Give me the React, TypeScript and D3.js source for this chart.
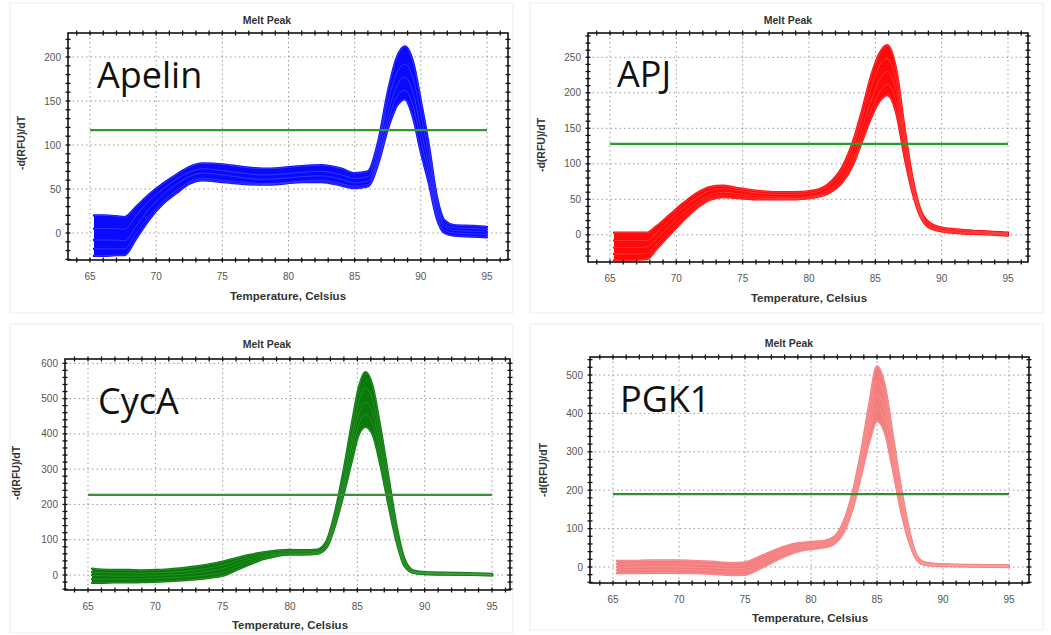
import React from 'react';
import * as d3 from 'd3';

// ---------------- DATA ----------------
const X_TICKS = [65, 70, 75, 80, 85, 90, 95];

const APELIN_Y_TICKS = [0, 50, 100, 150, 200];
const APJ_Y_TICKS = [0, 50, 100, 150, 200, 250];
const CYCA_Y_TICKS = [0, 100, 200, 300, 400, 500, 600];
const PGK1_Y_TICKS = [0, 100, 200, 300, 400, 500];

const APELIN_THRESHOLD = 117;
const APJ_THRESHOLD = 128;
const CYCA_THRESHOLD = 227;
const PGK1_THRESHOLD = 190;

const APELIN_TEMPS = [65.3, 66, 67, 67.6, 68.5, 69.5, 70.5, 71.5, 72.5, 73.5, 75, 76.5, 78, 79.5, 81, 82.5, 84, 85, 86, 86.8, 87.5, 88.2, 88.8, 89.4, 90, 90.6, 91.2, 91.8, 92.5, 94, 95];
const APELIN_CURVES = [
  [20, 20, 19, 18, 30, 44, 56, 66, 75, 79, 78, 75, 73, 74, 76, 77, 73, 68, 70, 105, 160, 200, 212, 195, 150, 100, 42, 14, 9, 8, 7],
  [5, 5, 5, 4, 20, 37, 50, 61, 69, 73, 71, 68, 66, 67, 69, 70, 66, 62, 64, 98, 148, 182, 192, 176, 135, 88, 35, 10, 6, 5, 4],
  [-8, -8, -8, -9, 8, 28, 43, 55, 64, 68, 66, 63, 61, 62, 64, 65, 61, 57, 59, 90, 135, 168, 177, 160, 118, 76, 28, 7, 3, 2, 1],
  [-18, -18, -18, -18, 0, 20, 36, 48, 58, 62, 60, 58, 56, 57, 59, 60, 56, 53, 55, 84, 125, 155, 162, 145, 105, 66, 22, 3, 0, -1, -2],
  [-26, -26, -25, -25, -6, 16, 33, 45, 56, 60, 58, 56, 55, 56, 58, 58, 54, 51, 53, 80, 118, 145, 152, 132, 92, 57, 17, 0, -3, -4, -5],
];

const APJ_TEMPS = [65.3, 66, 67, 67.8, 68.5, 69.5, 70.5, 71.5, 72.5, 73.5, 74.5, 76, 77.5, 79, 80.5, 81.5, 82.5, 83.3, 84, 84.7, 85.3, 85.9, 86.6, 87.2, 87.8, 88.4, 89, 90, 91.5, 93, 95];
const APJ_CURVES = [
  [3, 3, 3, 3, 12, 28, 44, 58, 67, 69, 66, 62, 60, 60, 63, 72, 95, 130, 175, 225, 255, 267, 230, 150, 80, 35, 18, 10, 7, 5, 3],
  [-8, -8, -8, -8, 3, 21, 38, 52, 62, 65, 63, 59, 57, 57, 60, 69, 90, 122, 165, 208, 238, 248, 215, 140, 75, 32, 16, 9, 6, 4, 2],
  [-18, -18, -18, -17, -6, 13, 30, 45, 56, 60, 58, 55, 53, 53, 56, 64, 83, 112, 150, 190, 218, 230, 200, 130, 70, 30, 14, 7, 4, 3, 1],
  [-27, -27, -27, -26, -14, 6, 24, 40, 52, 56, 55, 52, 51, 51, 54, 61, 78, 104, 140, 176, 200, 212, 185, 120, 65, 28, 12, 6, 3, 2, 0],
  [-36, -36, -35, -34, -20, 0, 20, 37, 49, 53, 52, 50, 50, 50, 53, 59, 74, 98, 132, 166, 188, 197, 170, 110, 60, 26, 11, 5, 2, 1, -1],
];

const CYCA_TEMPS = [65.3, 66, 67, 68, 69, 70, 71, 72, 73, 74, 75, 76, 77, 78, 79, 80, 81, 82, 82.7, 83.3, 84, 84.6, 85.1, 85.6, 86.1, 86.7, 87.3, 87.9, 88.5, 89.2, 90, 92.5, 95];
const CYCA_CURVES = [
  [18, 15, 14, 14, 13, 14, 16, 19, 24, 30, 38, 48, 57, 64, 69, 71, 70, 72, 95, 170, 300, 430, 530, 575, 540, 420, 280, 140, 45, 12, 8, 6, 3],
  [8, 7, 6, 6, 5, 6, 8, 10, 14, 20, 28, 40, 51, 59, 64, 67, 66, 67, 88, 158, 275, 395, 490, 530, 500, 390, 255, 125, 38, 10, 6, 4, 2],
  [0, -2, -3, -3, -3, -2, 0, 2, 6, 11, 18, 31, 44, 54, 60, 63, 62, 64, 84, 150, 260, 370, 455, 490, 465, 362, 235, 115, 34, 8, 5, 3, 1],
  [-12, -12, -12, -12, -11, -10, -8, -6, -3, 1, 7, 22, 37, 49, 57, 60, 60, 62, 80, 142, 245, 345, 425, 455, 432, 338, 218, 105, 30, 7, 4, 2, 0],
  [-22, -22, -21, -21, -20, -19, -17, -15, -12, -8, -2, 14, 30, 45, 54, 58, 58, 60, 77, 135, 232, 325, 398, 420, 402, 315, 202, 97, 26, 6, 3, 1, -1],
];

const PGK1_TEMPS = [65.3, 66.5, 68, 69.5, 71, 72.5, 74, 75, 76, 77, 78, 79, 80, 81, 81.8, 82.5, 83.2, 83.8, 84.4, 85, 85.6, 86.2, 86.8, 87.4, 88, 88.6, 89.5, 91, 93, 95];
const PGK1_CURVES = [
  [16, 16, 17, 17, 16, 14, 10, 12, 25, 40, 53, 62, 65, 68, 80, 120, 200, 300, 420, 522, 470, 340, 210, 100, 30, 12, 8, 6, 5, 4],
  [8, 8, 9, 9, 8, 6, 3, 5, 17, 32, 46, 56, 60, 63, 75, 112, 188, 285, 395, 485, 440, 320, 195, 92, 27, 10, 6, 5, 4, 3],
  [0, 0, 1, 1, 0, -2, -5, -3, 9, 25, 40, 51, 56, 59, 71, 105, 178, 270, 370, 450, 410, 300, 182, 85, 25, 9, 5, 4, 3, 2],
  [-8, -8, -7, -7, -8, -10, -13, -11, 2, 18, 34, 46, 52, 55, 66, 98, 168, 255, 348, 415, 380, 278, 166, 77, 22, 7, 4, 3, 2, 1],
  [-16, -16, -15, -15, -16, -18, -21, -20, -6, 11, 28, 41, 47, 51, 62, 92, 158, 240, 325, 380, 350, 255, 150, 70, 20, 6, 3, 2, 1, 0],
];

const TITLE = 'Melt Peak';
const X_LABEL = 'Temperature, Celsius';
const Y_LABEL = '-d(RFU)/dT';

// ---------------- COMPONENTS ----------------
type PanelProps = {
  id: string;
  name: string;
  temps: number[];
  curves: number[][];
  threshold: number;
  yTicks: number[];
  yMinor: number;
  color: string;
  light: string;
  thrColor: string;
  frame: { l: number; t: number; r: number; b: number };
  x65: number;
  x95: number;
  y0: number;
  yTopPx: number;
  box: { x: number; y: number; w: number; h: number };
  titlePos: [number, number];
  xLabelPos: [number, number];
  yLabelPos: [number, number];
  namePos: [number, number];
};

const FONT = "'Liberation Sans', Arial, sans-serif";

function Panel(p: PanelProps) {
  const { frame } = p;
  const topTick = p.yTicks[p.yTicks.length - 1];
  const x = d3.scaleLinear().domain([65, 95]).range([p.x65, p.x95]);
  const y = d3.scaleLinear().domain([0, topTick]).range([p.y0, p.yTopPx]);

  const xMin = x.invert(frame.l);
  const xMax = x.invert(frame.r);
  const yMin = y.invert(frame.b);
  const yMax = y.invert(frame.t);

  const xMinor = d3.range(Math.ceil(xMin), Math.floor(xMax) + 1, 1);
  const yMinorTicks = d3.range(Math.ceil(yMin / p.yMinor) * p.yMinor, yMax + 0.001, p.yMinor);

  const n = p.temps.length;
  const env = d3.range(n).map((i) => ({
    t: p.temps[i],
    lo: d3.min(p.curves, (c) => c[i]) as number,
    hi: d3.max(p.curves, (c) => c[i]) as number,
  }));
  const area = d3
    .area<{ t: number; lo: number; hi: number }>()
    .x((d) => x(d.t))
    .y0((d) => y(d.lo))
    .y1((d) => y(d.hi))
    .curve(d3.curveMonotoneX);
  const line = d3
    .line<number>()
    .x((_, i) => x(p.temps[i]))
    .y((d) => y(d))
    .curve(d3.curveMonotoneX);

  const clipId = `clip-${p.id}`;
  return (
    <g>
      <rect x={p.box.x} y={p.box.y} width={p.box.w} height={p.box.h} fill="#fff" stroke="#ededed" strokeWidth={1} />
      <defs>
        <clipPath id={clipId}>
          <rect x={frame.l} y={frame.t} width={frame.r - frame.l} height={frame.b - frame.t} />
        </clipPath>
      </defs>
      {X_TICKS.map((v) => (
        <line key={`gx${v}`} x1={x(v)} x2={x(v)} y1={frame.t} y2={frame.b} stroke="#9a9a9a" strokeWidth={1} strokeDasharray="1.5,3" />
      ))}
      {p.yTicks.map((v) => (
        <line key={`gy${v}`} x1={frame.l} x2={frame.r} y1={y(v)} y2={y(v)} stroke="#9a9a9a" strokeWidth={1} strokeDasharray="1.5,3" />
      ))}
      <text x={p.namePos[0]} y={p.namePos[1]} fontFamily="'Open Sans', 'Noto Sans', sans-serif" fontSize={36} fill="#111">
        {p.name}
      </text>
      <g clipPath={`url(#${clipId})`}>
        <path d={area(env) || ''} fill={p.color} />
        {p.curves.map((c, i) => (
          <path key={`c${i}`} d={line(c) || ''} fill="none" stroke={p.color} strokeWidth={2.4} strokeLinecap="round" />
        ))}
        {p.curves.map((c, i) => (
          <path key={`l${i}`} d={line(c) || ''} fill="none" stroke={p.light} strokeWidth={0.6} opacity={0.55} />
        ))}
      </g>
      <line x1={x(65)} x2={x(95)} y1={y(p.threshold)} y2={y(p.threshold)} stroke={p.thrColor} strokeWidth={2.2} />
      <rect x={frame.l} y={frame.t} width={frame.r - frame.l} height={frame.b - frame.t} fill="none" stroke="#111" strokeWidth={1.6} />
      {xMinor.map((v) => (
        <g key={`mx${v}`}>
          <line x1={x(v)} x2={x(v)} y1={frame.b - 2.5} y2={frame.b + 2.5} stroke="#111" strokeWidth={1.3} />
          <line x1={x(v)} x2={x(v)} y1={frame.t - 2.5} y2={frame.t + 2.5} stroke="#111" strokeWidth={1.3} />
        </g>
      ))}
      {yMinorTicks.map((v) => (
        <g key={`my${v}`}>
          <line x1={frame.l - 2.5} x2={frame.l + 2.5} y1={y(v)} y2={y(v)} stroke="#111" strokeWidth={1.3} />
          <line x1={frame.r - 2.5} x2={frame.r + 2.5} y1={y(v)} y2={y(v)} stroke="#111" strokeWidth={1.3} />
        </g>
      ))}
      {X_TICKS.map((v) => (
        <text key={`tx${v}`} x={x(v)} y={frame.b + 20} textAnchor="middle" fontFamily={FONT} fontSize={10} fill="#555">
          {v}
        </text>
      ))}
      {p.yTicks.map((v) => (
        <text key={`ty${v}`} x={frame.l - 7} y={y(v)} dy="0.35em" textAnchor="end" fontFamily={FONT} fontSize={10} fill="#555">
          {v}
        </text>
      ))}
      <text x={p.titlePos[0]} y={p.titlePos[1]} textAnchor="middle" fontFamily={FONT} fontWeight="bold" fontSize={10.5} fill="#333">
        {TITLE}
      </text>
      <text x={p.xLabelPos[0]} y={p.xLabelPos[1]} textAnchor="middle" fontFamily={FONT} fontWeight="bold" fontSize={11.5} fill="#333">
        {X_LABEL}
      </text>
      <text
        transform={`translate(${p.yLabelPos[0]},${p.yLabelPos[1]}) rotate(-90)`}
        textAnchor="middle"
        fontFamily={FONT}
        fontWeight="bold"
        fontSize={10.5}
        fill="#333"
      >
        {Y_LABEL}
      </text>
    </g>
  );
}

export default function App() {
  return (
    <svg width={1051} height={635} style={{ position: 'absolute', left: 0, top: 0, background: '#fff' }}>
      <rect x={0} y={0} width={1051} height={635} fill="#fff" />
      <Panel
        id="apelin"
        name="Apelin"
        temps={APELIN_TEMPS}
        curves={APELIN_CURVES}
        threshold={APELIN_THRESHOLD}
        yTicks={APELIN_Y_TICKS}
        yMinor={10}
        color="#0a0aff"
        light="#8a8aff"
        thrColor="#2e9b2e"
        frame={{ l: 68, t: 33, r: 508, b: 260 }}
        x65={90}
        x95={487}
        y0={233}
        yTopPx={57}
        box={{ x: 10, y: 3, w: 503, h: 310 }}
        titlePos={[267, 24]}
        xLabelPos={[288, 300]}
        yLabelPos={[25, 143]}
        namePos={[97, 88]}
      />
      <Panel
        id="apj"
        name="APJ"
        temps={APJ_TEMPS}
        curves={APJ_CURVES}
        threshold={APJ_THRESHOLD}
        yTicks={APJ_Y_TICKS}
        yMinor={10}
        color="#ff0a0a"
        light="#ff8a8a"
        thrColor="#2e9b2e"
        frame={{ l: 588, t: 33, r: 1028, b: 262 }}
        x65={610}
        x95={1008}
        y0={234.8}
        yTopPx={57.3}
        box={{ x: 530, y: 3, w: 513, h: 310 }}
        titlePos={[788, 24]}
        xLabelPos={[809, 302]}
        yLabelPos={[545, 145]}
        namePos={[617, 87]}
      />
      <Panel
        id="cyca"
        name="CycA"
        temps={CYCA_TEMPS}
        curves={CYCA_CURVES}
        threshold={CYCA_THRESHOLD}
        yTicks={CYCA_Y_TICKS}
        yMinor={20}
        color="#0a7a0a"
        light="#62b462"
        thrColor="#3a8f3a"
        frame={{ l: 65, t: 359, r: 510, b: 590 }}
        x65={88}
        x95={492}
        y0={575}
        yTopPx={363.3}
        box={{ x: 10, y: 324, w: 503, h: 309 }}
        titlePos={[267, 348]}
        xLabelPos={[290, 629]}
        yLabelPos={[20, 473]}
        namePos={[98, 414]}
      />
      <Panel
        id="pgk1"
        name="PGK1"
        temps={PGK1_TEMPS}
        curves={PGK1_CURVES}
        threshold={PGK1_THRESHOLD}
        yTicks={PGK1_Y_TICKS}
        yMinor={20}
        color="#f47c7c"
        light="#ffb8b8"
        thrColor="#2e8f2e"
        frame={{ l: 590, t: 357, r: 1029, b: 583 }}
        x65={613}
        x95={1009}
        y0={567}
        yTopPx={375}
        box={{ x: 530, y: 324, w: 513, h: 306 }}
        titlePos={[789, 347]}
        xLabelPos={[810, 622]}
        yLabelPos={[547, 470]}
        namePos={[620, 412]}
      />
    </svg>
  );
}
